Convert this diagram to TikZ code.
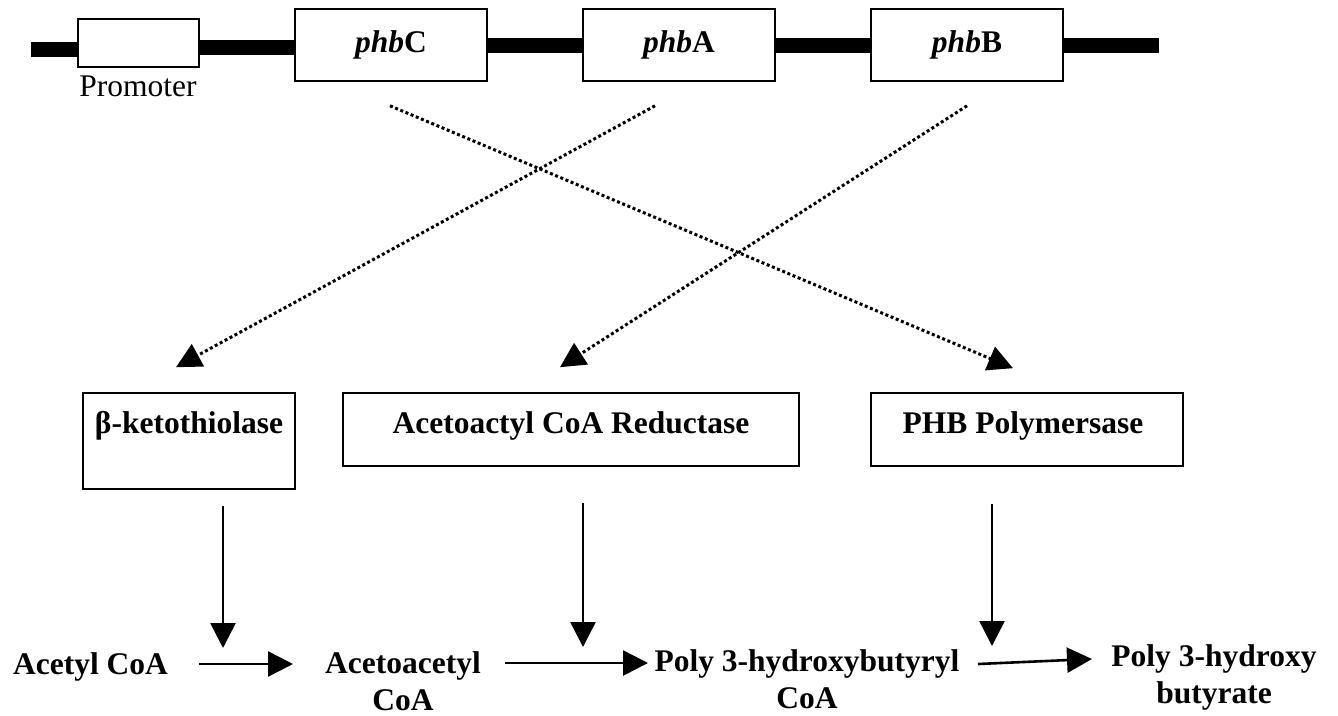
\documentclass[tikz,border=0pt]{standalone}
\usepackage{fontspec}
\setmainfont{Liberation Serif}
\usetikzlibrary{arrows.meta}
\begin{document}
\begin{tikzpicture}[x=1pt,y=-1pt,
  txt/.style={font=\fontsize{31.5}{37}\selectfont\bfseries, inner sep=0pt, align=center},
  gene/.style={draw, line width=1.6pt, fill=white, minimum width=192pt, minimum height=72pt, inner sep=0pt, font=\fontsize{31.5}{37}\selectfont\bfseries},
  enzbox/.style={draw, line width=1.6pt, inner sep=0pt},
  dna/.style={line width=15pt},
  arr/.style={line width=2.6pt, -{Triangle[length=25pt,width=25pt]}},
  dotarr/.style={line width=3pt, dash pattern=on 3pt off 2.6pt, -{Triangle[length=25pt,width=25pt]}}
]
\useasboundingbox (0,0) rectangle (1338,715);

% DNA backbone
\coordinate (dnaL) at (31,49);
\coordinate (dnaR) at (1159,45);
\node[draw, line width=1.6pt, minimum width=121pt, minimum height=48pt, inner sep=0pt] (prom) at (138.5,43) {};
\node[gene] (phbC) at (391,45) {\textit{phb}C};
\node[gene] (phbA) at (679,45) {\textit{phb}A};
\node[gene] (phbB) at (967,45) {\textit{phb}B};
\node[font=\fontsize{31.5}{37}\selectfont, inner sep=0pt, anchor=base] (promlbl) at (138,96) {Promoter};

\draw[dna] (dnaL) -- (dnaL -| prom.west);
\draw[dna] (prom.east |- 0,47) -- (phbC.west |- 0,47);
\draw[dna] (phbC.east) -- (phbA.west);
\draw[dna] (phbA.east) -- (phbB.west);
\draw[dna] (phbB.east) -- (dnaR);

% enzyme boxes
\node[enzbox, minimum width=212pt, minimum height=96pt] (bk) at (189,441) {};
\node[enzbox, minimum width=456pt, minimum height=73pt] (red) at (571,429.5) {};
\node[enzbox, minimum width=312pt, minimum height=73pt] (pol) at (1027,429.5) {};
\node[txt, anchor=base] (bkl) at (189,433) {β-ketothiolase};
\node[txt, anchor=base] (redl) at (571,433) {Acetoactyl CoA Reductase};
\node[txt, anchor=base] (poll) at (1023,433) {PHB Polymersase};

% dotted gene -> enzyme arrows
\draw[dotarr] ([shift={(-1,24)}]phbC.south) -- ([shift={(-14,-24)}]pol.north);
\draw[dotarr] ([shift={(-24,24)}]phbA.south) -- ([shift={(-13,-25)}]bk.north);
\draw[dotarr] ([shift={(0,24)}]phbB.south) -- ([shift={(-11,-25)}]red.north);

% metabolites (base anchor = last line baseline)
\node[txt, anchor=base] (acetyl) at (90.5,674) {Acetyl CoA};
\node[txt, anchor=base] (acac) at (403,710) {Acetoacetyl\\CoA};
\node[txt, anchor=base] (phbcoa) at (807,708) {Poly 3-hydroxybutyryl\\CoA};
\node[txt, anchor=base] (phb) at (1214,703) {Poly 3-hydroxy\\butyrate};

% reaction arrows
\coordinate (h1s) at (199,664); \coordinate (h1e) at (293,664);
\coordinate (h2s) at (505,663); \coordinate (h2e) at (648,663);
\coordinate (h3s) at (978,664); \coordinate (h3e) at (1092,659);
\draw[arr] (h1s) -- (h1e);
\draw[arr] (h2s) -- (h2e);
\draw[arr] (h3s) -- (h3e);

% enzyme action arrows
\coordinate (v1s) at (223,506); \coordinate (v1e) at (223,648);
\coordinate (v2s) at (583,503); \coordinate (v2e) at (583,647);
\coordinate (v3s) at (992,504); \coordinate (v3e) at (992,646);
\draw[arr] (v1s) -- (v1e);
\draw[arr] (v2s) -- (v2e);
\draw[arr] (v3s) -- (v3e);
\end{tikzpicture}
\end{document}
